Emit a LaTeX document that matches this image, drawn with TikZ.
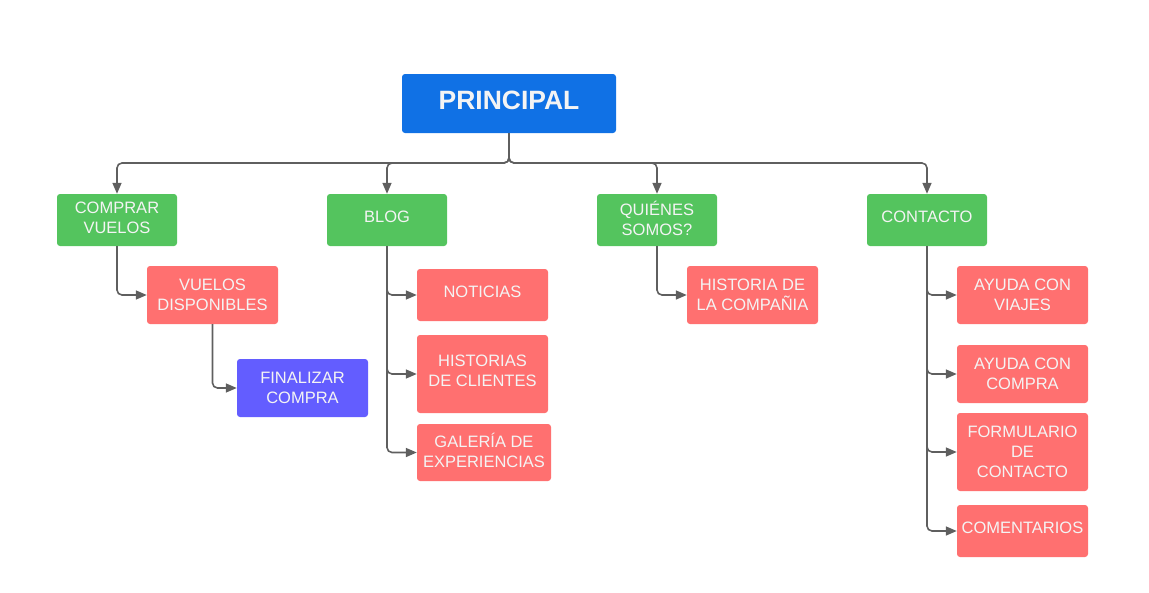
\documentclass[tikz,border=0pt]{standalone}
\usepackage{fontspec}
\setmainfont{Liberation Sans}
\usetikzlibrary{arrows.meta}
\definecolor{cblue}{HTML}{1071E5}
\definecolor{cgreen}{HTML}{54C45E}
\definecolor{cred}{HTML}{FF7070}
\definecolor{cpurple}{HTML}{635DFF}
\definecolor{cline}{HTML}{5F5F5F}
\definecolor{ctext}{HTML}{F4F4F4}
\begin{document}
\begin{tikzpicture}[x=1pt,y=-1pt,
  box/.style={rounded corners=3pt, inner sep=0pt, align=center, text=ctext,
    text depth=6.5pt, font=\fontsize{16.5}{20}\selectfont},
  gbox/.style={box, fill=cgreen, minimum width=120pt, minimum height=52pt},
  rbox/.style={box, fill=cred, minimum width=131pt},
  conn/.style={draw=cline, line width=1.6pt, rounded corners=5pt,
    -{Triangle[length=11pt,width=9pt]}}]
\useasboundingbox (0,0) rectangle (1149,592);
\node[box, fill=cblue, minimum width=214pt, minimum height=59pt, text depth=7.5pt,
  font=\fontsize{26.5}{30}\selectfont\bfseries] (p) at (509,103.5) {PRINCIPAL};
\node[gbox, text depth=4pt] (cv) at (117,220) {COMPRAR\\VUELOS};
\node[gbox] (blog) at (387,220) {BLOG};
\node[gbox, text depth=4pt] (qs) at (657,220) {QUIÉNES\\SOMOS?};
\node[gbox] (ct) at (927,220) {CONTACTO};
\node[rbox, minimum height=58pt, text depth=0pt] (vd) at (212.5,295) {VUELOS\\DISPONIBLES};
\node[box, fill=cpurple, minimum width=131pt, minimum height=58pt, text depth=0pt] (fc) at (302.5,388) {FINALIZAR\\COMPRA};
\node[rbox, minimum height=52pt] (not) at (482.5,295) {NOTICIAS};
\node[rbox, minimum height=78pt, text depth=6pt] (hc) at (482.5,374) {HISTORIAS\\DE CLIENTES};
\node[rbox, minimum width=134pt, minimum height=57pt, text depth=5pt] (gal) at (484,452.5) {GALERÍA DE\\EXPERIENCIAS};
\node[rbox, minimum height=58pt, text depth=0pt] (hist) at (752.5,295) {HISTORIA DE\\LA COMPAÑIA};
\node[rbox, minimum height=58pt, text depth=0pt] (av) at (1022.5,295) {AYUDA CON\\VIAJES};
\node[rbox, minimum height=58pt, text depth=0pt] (ac) at (1022.5,374) {AYUDA CON\\COMPRA};
\node[rbox, minimum height=78pt, text depth=0pt] (fdc) at (1022.5,452) {FORMULARIO\\DE\\CONTACTO};
\node[rbox, minimum height=52pt] (com) at (1022.5,531) {COMENTARIOS};
\coordinate (hub) at (509,163);
\draw[conn] (p.south) -- (hub) -| (cv.north);
\draw[conn] (p.south) -- (hub) -| (blog.north);
\draw[conn] (p.south) -- (hub) -| (qs.north);
\draw[conn] (p.south) -- (hub) -| (ct.north);
\draw[conn] (cv.south) |- (vd.west);
\draw[conn] (vd.south) |- (fc.west);
\draw[conn] (blog.south) |- (not.west);
\draw[conn] (blog.south) |- (hc.west);
\draw[conn] (blog.south) |- (gal.west);
\draw[conn] (qs.south) |- (hist.west);
\draw[conn] (ct.south) |- (av.west);
\draw[conn] (ct.south) |- (ac.west);
\draw[conn] (ct.south) |- (fdc.west);
\draw[conn] (ct.south) |- (com.west);
\end{tikzpicture}
\end{document}
